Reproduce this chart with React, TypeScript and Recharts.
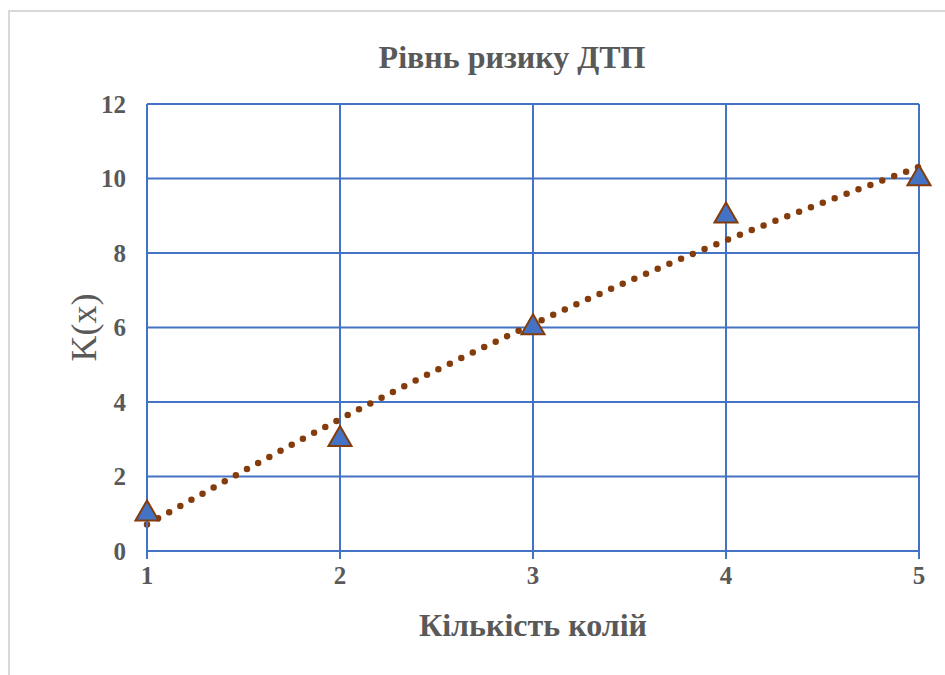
import React from 'react';
import { ComposedChart, Line, Scatter, XAxis, YAxis, ZAxis, CartesianGrid, Label } from 'recharts';

// Кількість колій
const lanes = [1, 2, 3, 4, 5];
// K(x) measured values
const risk = [1, 3, 6, 9, 10];
// polynomial trendline
const trend = [0.71, 3.54, 6.09, 8.34, 10.31];

const xTicks = [1, 2, 3, 4, 5];
const yTicks = [0, 2, 4, 6, 8, 10, 12];

const data = lanes.map((x, i) => ({ x, k: risk[i], trend: trend[i] }));

const BLUE = '#4472C4';
const BROWN = '#843C0C';
const GREY = '#595959';
const FONT = '"Liberation Serif", "Times New Roman", serif';

const tickStyle = { fontSize: 25, fontWeight: 700, fill: GREY, fontFamily: FONT };

export default function App() {
  return (
    <div style={{ position: 'absolute', left: 0, top: 0, width: 945, height: 675, background: '#fff' }}>
      <div
        style={{
          position: 'absolute',
          left: 8,
          top: 10,
          width: 937,
          height: 665,
          borderLeft: '2px solid #d9d9d9',
          borderTop: '2px solid #d9d9d9',
          boxSizing: 'border-box',
        }}
      />
      <div
        style={{
          position: 'absolute',
          left: 262,
          top: 38,
          width: 500,
          textAlign: 'center',
          fontFamily: FONT,
          fontWeight: 700,
          fontSize: 32,
          lineHeight: '38px',
          color: GREY,
        }}
      >
        Рівнь ризику ДТП
      </div>
      <div style={{ position: 'absolute', left: 0, top: 0 }}>
        <ComposedChart
          width={945}
          height={675}
          data={data}
          margin={{ top: 104, right: 26, bottom: 94, left: 87 }}
        >
          <CartesianGrid stroke={BLUE} strokeWidth={2} />
          <XAxis
            dataKey="x"
            type="number"
            domain={[1, 5]}
            ticks={xTicks}
            height={30}
            axisLine={{ stroke: BLUE, strokeWidth: 2 }}
            tickLine={{ stroke: BLUE, strokeWidth: 2 }}
            tickSize={8}
            tickMargin={7}
            tick={tickStyle}
          >
            <Label
              value="Кількість колій"
              position="bottom"
              offset={32}
              style={{ fontSize: 32, fontWeight: 700, fill: GREY, fontFamily: FONT }}
            />
          </XAxis>
          <YAxis
            type="number"
            domain={[0, 12]}
            ticks={yTicks}
            width={60}
            axisLine={{ stroke: BLUE, strokeWidth: 2 }}
            tickLine={false}
            tickSize={0}
            tickMargin={21}
            tick={tickStyle}
          >
            <Label
              value="K(x)"
              angle={-90}
              position="left"
              offset={4}
              style={{ fontSize: 36, fill: GREY, fontFamily: FONT, textAnchor: 'middle' }}
            />
          </YAxis>
          <ZAxis range={[230, 230]} />
          <Line
            dataKey="trend"
            type="natural"
            stroke={BROWN}
            strokeWidth={6.5}
            strokeDasharray="0 12.7"
            strokeLinecap="round"
            dot={false}
            activeDot={false}
            isAnimationActive={false}
          />
          <Scatter
            dataKey="k"
            shape="triangle"
            fill={BLUE}
            stroke={BROWN}
            strokeWidth={2}
            isAnimationActive={false}
          />
        </ComposedChart>
      </div>
    </div>
  );
}
